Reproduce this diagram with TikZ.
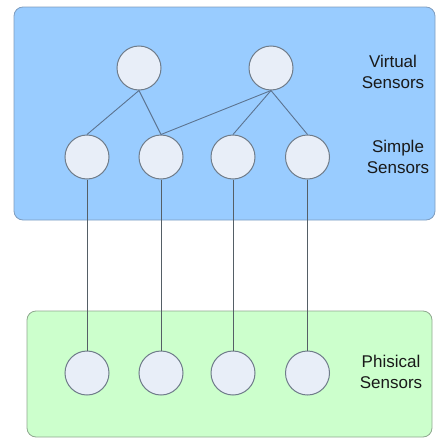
\documentclass[tikz,border=0pt]{standalone}
\usepackage{fontspec}
\setmainfont{Liberation Sans}
\definecolor{skyfill}{HTML}{99CCFF}
\definecolor{skyedge}{HTML}{7F9DBF}
\definecolor{mintfill}{HTML}{CCFFCC}
\definecolor{mintedge}{HTML}{8FA88F}
\definecolor{dotfill}{HTML}{E8EEF8}
\definecolor{dotedge}{HTML}{6F7C8A}
\definecolor{linkcol}{HTML}{5C7390}
\definecolor{wirecol}{HTML}{555F66}
\tikzset{
  layer/.style={rounded corners=9pt, line width=0.8pt},
  sensor/.style={circle, draw=dotedge, fill=dotfill, line width=1pt, minimum size=44pt, inner sep=0pt},
  link/.style={draw=linkcol, line width=0.9pt},
  wire/.style={draw=wirecol, line width=0.8pt},
  caption/.style={font=\fontsize{17}{21}\selectfont, align=center, text=black!90}
}
\begin{document}
\begin{tikzpicture}[x=1pt, y=-1pt]
  \useasboundingbox (0,0) rectangle (438,439);
  % layers
  \draw[layer, draw=skyedge, fill=skyfill] (14,7) rectangle (435,220);
  \draw[layer, draw=mintedge, fill=mintfill] (27,311) rectangle (432,437);
  % virtual sensors
  \node[sensor] (v1) at (139,68) {};
  \node[sensor] (v2) at (271,68) {};
  % simple sensors
  \node[sensor] (s1) at (87,157) {};
  \node[sensor] (s2) at (161,157) {};
  \node[sensor] (s3) at (233,157) {};
  \node[sensor] (s4) at (307.5,157) {};
  % physical sensors
  \node[sensor] (p1) at (87,373) {};
  \node[sensor] (p2) at (161,373) {};
  \node[sensor] (p3) at (233,373) {};
  \node[sensor] (p4) at (307.5,373) {};
  % composition links
  \draw[link] (v1.south) -- (s1.north);
  \draw[link] (v1.south) -- (s2.north);
  \draw[link] (v2.south) -- (s2.north);
  \draw[link] (v2.south) -- (s3.north);
  \draw[link] (v2.south) -- (s4.north);
  % wiring to hardware
  \draw[wire] (s1.south) -- (p1.north);
  \draw[wire] (s2.south) -- (p2.north);
  \draw[wire] (s3.south) -- (p3.north);
  \draw[wire] (s4.south) -- (p4.north);
  % layer captions
  \node[caption] (tv) at (393,72) {Virtual\\Sensors};
  \node[caption] (ts) at (398,157) {Simple\\Sensors};
  \node[caption] (tp) at (391,372) {Phisical\\Sensors};
\end{tikzpicture}
\end{document}
